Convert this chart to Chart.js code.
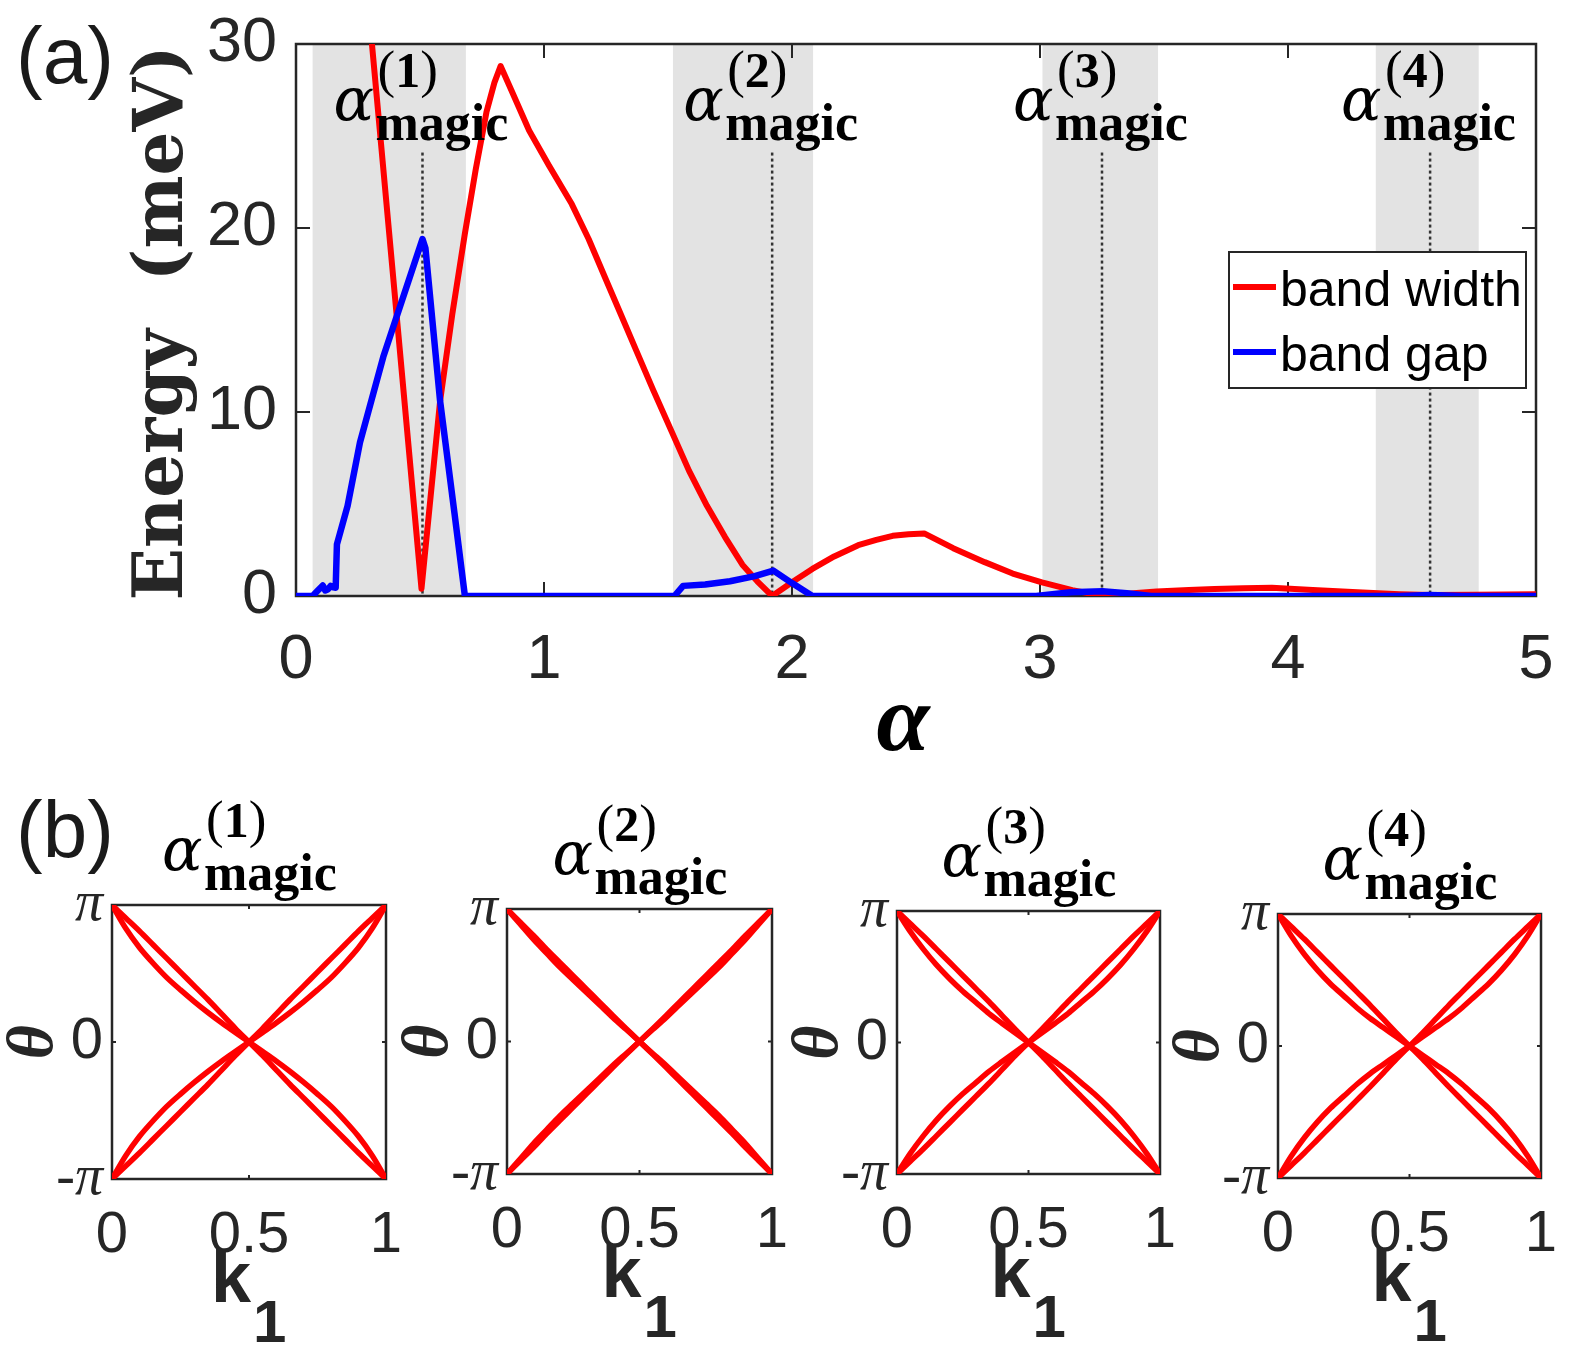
<!DOCTYPE html>
<html>
<head>
<meta charset="utf-8">
<title>Band width and band gap vs alpha</title>
<script src="https://cdn.jsdelivr.net/npm/chart.js@4.4.1/dist/chart.umd.min.js"></script>
<style>
  html, body { margin: 0; padding: 0; background: #fff; overflow: hidden; }
  body { width: 1578px; height: 1351px; position: relative; }
  canvas { position: absolute; }
</style>
</head>
<body>
<canvas id="bandChart" width="1578" height="780" style="left:0;top:0"></canvas>
<canvas id="wl1"></canvas>
<canvas id="wl2"></canvas>
<canvas id="wl3"></canvas>
<canvas id="wl4"></canvas>
<script>
// ===== panel (a) data =====
const alphaWidth = [0.29, 0.409, 0.506, 0.581, 0.63, 0.681, 0.725, 0.768, 0.8, 0.825, 0.868, 0.94, 1.02, 1.112, 1.18, 1.256, 1.31, 1.37, 1.44, 1.514, 1.585, 1.657, 1.73, 1.80, 1.86, 1.92, 2.0, 2.082, 2.17, 2.267, 2.34, 2.406, 2.47, 2.533, 2.65, 2.777, 2.89, 3.008, 3.13, 3.252, 3.35, 3.47, 3.6, 3.703, 3.82, 3.935, 4.1, 4.28, 4.45, 4.574, 4.75, 5.0];
const bandWidth  = [32.4, 14.8, 0.4, 10.6, 15.3, 19.7, 23.2, 26.3, 27.9, 28.8, 27.5, 25.3, 23.4, 21.3, 19.4, 17.0, 15.3, 13.4, 11.2, 8.96, 6.8, 4.9, 3.2, 1.7, 0.8, 0, 0.75, 1.47, 2.15, 2.76, 3.05, 3.27, 3.36, 3.4, 2.6, 1.84, 1.22, 0.74, 0.32, 0, 0.12, 0.25, 0.33, 0.38, 0.42, 0.45, 0.33, 0.2, 0.1, 0.05, 0.07, 0.1];

const alphaGap = [0, 0.067, 0.086, 0.108, 0.118, 0.129, 0.14, 0.151, 0.16, 0.165, 0.208, 0.258, 0.352, 0.51, 0.522, 0.581, 0.639, 0.681, 1.526, 1.561, 1.65, 1.75, 1.85, 1.925, 2.0, 2.082, 2.985, 3.05, 3.124, 3.252, 3.35, 3.448, 4.45, 4.574, 4.7, 5.0];
const bandGap  = [0, 0, 0.27, 0.57, 0.3, 0.37, 0.55, 0.47, 0.45, 2.8, 4.9, 8.35, 13.0, 19.4, 18.9, 10.6, 4.5, 0, 0, 0.55, 0.62, 0.8, 1.08, 1.38, 0.7, 0, 0, 0.1, 0.2, 0.26, 0.15, 0, 0, 0.05, 0, 0];

const magicAlpha = [0.51, 1.92, 3.25, 4.573];
const shadeStart = [0.067, 1.52, 3.01, 4.354];
const shadeEnd   = [0.685, 2.085, 3.476, 4.769];
const alphaTicks  = [0, 1, 2, 3, 4, 5];
const energyTicks = [0, 10, 20, 30];
const seriesNames = ["band width", "band gap"];

// ===== panel (b) data: Wilson loop phases theta / pi =====
const k1 = [0, 0.05, 0.1, 0.15, 0.2, 0.25, 0.3, 0.35, 0.4, 0.45, 0.5, 0.55, 0.6, 0.65, 0.7, 0.75, 0.8, 0.85, 0.9, 0.95, 1];

const wl1Down     = [1, 0.905, 0.81, 0.71, 0.61, 0.51, 0.41, 0.31, 0.205, 0.1, 0, -0.1, -0.205, -0.31, -0.41, -0.51, -0.61, -0.71, -0.81, -0.905, -1];
const wl1DownBent = [1, 0.83, 0.69, 0.575, 0.47, 0.38, 0.295, 0.215, 0.14, 0.07, 0, -0.07, -0.14, -0.215, -0.295, -0.38, -0.47, -0.575, -0.69, -0.83, -1];
const wl1Up       = [-1, -0.905, -0.81, -0.71, -0.61, -0.51, -0.41, -0.31, -0.205, -0.1, 0, 0.1, 0.205, 0.31, 0.41, 0.51, 0.61, 0.71, 0.81, 0.905, 1];
const wl1UpBent   = [-1, -0.83, -0.69, -0.575, -0.47, -0.38, -0.295, -0.215, -0.14, -0.07, 0, 0.07, 0.14, 0.215, 0.295, 0.38, 0.47, 0.575, 0.69, 0.83, 1];

const wl2Down     = [1, 0.9, 0.8, 0.695, 0.595, 0.495, 0.395, 0.295, 0.195, 0.097, 0, -0.097, -0.195, -0.295, -0.395, -0.495, -0.595, -0.695, -0.8, -0.9, -1];
const wl2DownBent = [1, 0.885, 0.77, 0.665, 0.56, 0.465, 0.37, 0.275, 0.18, 0.09, 0, -0.09, -0.18, -0.275, -0.37, -0.465, -0.56, -0.665, -0.77, -0.885, -1];
const wl2Up       = [-1, -0.9, -0.8, -0.695, -0.595, -0.495, -0.395, -0.295, -0.195, -0.097, 0, 0.097, 0.195, 0.295, 0.395, 0.495, 0.595, 0.695, 0.8, 0.9, 1];
const wl2UpBent   = [-1, -0.885, -0.77, -0.665, -0.56, -0.465, -0.37, -0.275, -0.18, -0.09, 0, 0.09, 0.18, 0.275, 0.37, 0.465, 0.56, 0.665, 0.77, 0.885, 1];

const wl3Down     = [1, 0.905, 0.81, 0.71, 0.61, 0.51, 0.41, 0.31, 0.205, 0.1, 0, -0.1, -0.205, -0.31, -0.41, -0.51, -0.61, -0.71, -0.81, -0.905, -1];
const wl3DownBent = [1, 0.845, 0.71, 0.59, 0.485, 0.39, 0.305, 0.22, 0.145, 0.072, 0, -0.072, -0.145, -0.22, -0.305, -0.39, -0.485, -0.59, -0.71, -0.845, -1];
const wl3Up       = [-1, -0.905, -0.81, -0.71, -0.61, -0.51, -0.41, -0.31, -0.205, -0.1, 0, 0.1, 0.205, 0.31, 0.41, 0.51, 0.61, 0.71, 0.81, 0.905, 1];
const wl3UpBent   = [-1, -0.845, -0.71, -0.59, -0.485, -0.39, -0.305, -0.22, -0.145, -0.072, 0, 0.072, 0.145, 0.22, 0.305, 0.39, 0.485, 0.59, 0.71, 0.845, 1];

const wl4Down     = [1, 0.905, 0.81, 0.71, 0.61, 0.51, 0.41, 0.31, 0.205, 0.1, 0, -0.1, -0.205, -0.31, -0.41, -0.51, -0.61, -0.71, -0.81, -0.905, -1];
const wl4DownBent = [1, 0.835, 0.695, 0.575, 0.47, 0.38, 0.29, 0.21, 0.14, 0.07, 0, -0.07, -0.14, -0.21, -0.29, -0.38, -0.47, -0.575, -0.695, -0.835, -1];
const wl4Up       = [-1, -0.905, -0.81, -0.71, -0.61, -0.51, -0.41, -0.31, -0.205, -0.1, 0, 0.1, 0.205, 0.31, 0.41, 0.51, 0.61, 0.71, 0.81, 0.905, 1];
const wl4UpBent   = [-1, -0.835, -0.695, -0.575, -0.47, -0.38, -0.29, -0.21, -0.14, -0.07, 0, 0.07, 0.14, 0.21, 0.29, 0.38, 0.47, 0.575, 0.695, 0.835, 1];

const thetaTicks = [-1, 0, 1];
const thetaLabels = ["-π", "0", "π"];
const kTicks = [0, 0.5, 1];
const kLabels = ["0", "0.5", "1"];

// ===== styles =====
const INK = "#262626";
const SANS = '"Liberation Sans", Arial, sans-serif';
const SERIF = '"Liberation Serif", "Times New Roman", serif';
const dotTop = 24.1;

function toPoints(xs, ys) {
    return xs.map((v, i) => ({ x: v, y: ys[i] }));
}

// keep the plot box where the layout padding puts it
function noLabelPadding(s) {
    s.paddingTop = 0;
    s.paddingBottom = 0;
    s.paddingLeft = 0;
    s.paddingRight = 0;
}

// box with MATLAB style inward ticks
function drawFrame(ctx, a, xs, ys, xt, yt, len) {
    ctx.save();
    ctx.strokeStyle = INK;
    ctx.lineWidth = 2.5;
    ctx.strokeRect(a.left, a.top, a.right - a.left, a.bottom - a.top);
    ctx.lineWidth = 2;
    ctx.beginPath();
    xt.forEach(v => {
        const px = xs.getPixelForValue(v);
        ctx.moveTo(px, a.bottom); ctx.lineTo(px, a.bottom - len);
        ctx.moveTo(px, a.top); ctx.lineTo(px, a.top + len);
    });
    yt.forEach(v => {
        const py = ys.getPixelForValue(v);
        ctx.moveTo(a.left, py); ctx.lineTo(a.left + len, py);
        ctx.moveTo(a.right, py); ctx.lineTo(a.right - len, py);
    });
    ctx.stroke();
    ctx.restore();
}

// alpha^(n)_magic label, x0 = left of alpha, base = alpha baseline
function drawMagic(ctx, x0, base, n) {
    ctx.save();
    ctx.fillStyle = "#000";
    ctx.textAlign = "left";
    ctx.textBaseline = "alphabetic";
    ctx.font = 'italic 60px "DejaVu Serif", serif';
    ctx.fillText("α", x0, base);
    let sx = x0 + 44;
    const sb = base - 33;
    ctx.font = "53px " + SERIF;
    ctx.fillText("(", sx, sb);
    sx += ctx.measureText("(").width;
    ctx.font = "bold 50px " + SERIF;
    ctx.fillText(String(n), sx, sb);
    sx += ctx.measureText(String(n)).width;
    ctx.font = "53px " + SERIF;
    ctx.fillText(")", sx, sb);
    ctx.font = "bold 52px " + SERIF;
    ctx.fillText("magic", x0 + 42, base + 20);
    ctx.restore();
}

// ===============================
// PANEL (a)
// ===============================
const bandDecor = {
    id: "bandDecor",
    beforeDatasetsDraw(chart) {
        const { ctx, chartArea: a, scales: { x, y } } = chart;
        ctx.save();
        ctx.fillStyle = "#e3e3e3";
        shadeStart.forEach((s, i) => {
            const x0 = x.getPixelForValue(s);
            const x1 = x.getPixelForValue(shadeEnd[i]);
            ctx.fillRect(x0, a.top, x1 - x0, a.bottom - a.top);
        });
        ctx.strokeStyle = "#333";
        ctx.lineWidth = 2.5;
        ctx.setLineDash([3, 3]);
        magicAlpha.forEach(m => {
            const px = x.getPixelForValue(m);
            ctx.beginPath();
            ctx.moveTo(px, y.getPixelForValue(dotTop));
            ctx.lineTo(px, a.bottom);
            ctx.stroke();
        });
        ctx.restore();
        drawFrame(ctx, a, x, y, alphaTicks, energyTicks, 14);
    },
    afterDatasetsDraw(chart) {
        const { ctx, scales: { x } } = chart;

        magicAlpha.forEach((m, i) => drawMagic(ctx, x.getPixelForValue(m) - 89, 120, i + 1));

        // legend
        ctx.save();
        ctx.fillStyle = "#fff";
        ctx.fillRect(1229, 252, 297, 136);
        ctx.strokeStyle = INK;
        ctx.lineWidth = 2;
        ctx.strokeRect(1229, 252, 297, 136);
        const cols = ["#ff0000", "#0000ff"];
        [287, 352].forEach((ly, i) => {
            ctx.strokeStyle = cols[i];
            ctx.lineWidth = 6;
            ctx.beginPath();
            ctx.moveTo(1233, ly);
            ctx.lineTo(1276, ly);
            ctx.stroke();
            ctx.fillStyle = "#000";
            ctx.font = "50px " + SANS;
            ctx.textBaseline = "alphabetic";
            ctx.fillText(seriesNames[i], 1280, ly + 19);
        });

        // axis titles
        ctx.fillStyle = INK;
        ctx.translate(182, 323);
        ctx.rotate(-Math.PI / 2);
        ctx.textAlign = "center";
        ctx.font = 'bold 69px "DejaVu Serif", serif';
        ctx.fillText("Energy  (meV)", 0, 0);
        ctx.restore();

        ctx.save();
        ctx.fillStyle = "#000";
        ctx.textAlign = "center";
        ctx.font = "bold italic 96px " + SERIF;
        ctx.fillText("α", 903, 750);
        ctx.font = "80px " + SANS;
        ctx.textAlign = "left";
        ctx.fillStyle = "#1a1a1a";
        ctx.fillText("(a)", 16, 83);
        ctx.restore();
    }
};

new Chart(document.getElementById("bandChart"), {
    type: "line",
    data: {
        datasets: [
            {
                label: seriesNames[1],
                data: toPoints(alphaGap, bandGap),
                borderColor: "#0000ff",
                borderWidth: 6.5,
                order: 0
            },
            {
                label: seriesNames[0],
                data: toPoints(alphaWidth, bandWidth),
                borderColor: "#ff0000",
                borderWidth: 6,
                order: 1
            }
        ]
    },
    options: {
        responsive: false,
        animation: false,
        events: [],
        layout: { padding: { top: 44, right: 42, left: 0, bottom: 0 } },
        elements: {
            point: { radius: 0 },
            line: { tension: 0, borderJoinStyle: "round", borderCapStyle: "round", fill: false }
        },
        plugins: { legend: { display: false }, tooltip: { enabled: false } },
        scales: {
            x: {
                type: "linear",
                min: 0, max: 5,
                grid: { display: false, drawTicks: false },
                border: { display: false },
                afterFit: s => { s.height = 780 - 596; noLabelPadding(s); },
                afterBuildTicks: s => { s.ticks = alphaTicks.map(v => ({ value: v })); },
                ticks: { color: INK, padding: 27, font: { family: SANS, size: 63 }, maxRotation: 0, autoSkip: false }
            },
            y: {
                type: "linear",
                min: 0, max: 30,
                grid: { display: false, drawTicks: false },
                border: { display: false },
                afterFit: s => { s.width = 296; noLabelPadding(s); },
                afterBuildTicks: s => { s.ticks = energyTicks.map(v => ({ value: v })); },
                ticks: { color: INK, padding: 19, font: { family: SANS, size: 63 } }
            }
        }
    },
    plugins: [bandDecor]
});

// ===============================
// PANEL (b)
// ===============================
const wilsonBoxes = [
    { l: 112, t: 905, r: 386, b: 1179 },
    { l: 507, t: 909, r: 772, b: 1174 },
    { l: 897, t: 911, r: 1160, b: 1174 },
    { l: 1278, t: 914, r: 1541, b: 1178 }
];
const wilsonSets = [
    [wl1Down, wl1DownBent, wl1Up, wl1UpBent],
    [wl2Down, wl2DownBent, wl2Up, wl2UpBent],
    [wl3Down, wl3DownBent, wl3Up, wl3UpBent],
    [wl4Down, wl4DownBent, wl4Up, wl4UpBent]
];

function wilsonChart(idx) {
    const box = wilsonBoxes[idx];
    const padTop = 125, padRight = 25, yW = 112, xH = 175;
    const cv = document.getElementById("wl" + (idx + 1));
    const left = box.l - yW, top = box.t - padTop;
    cv.width = (box.r - box.l) + yW + padRight;
    cv.height = (box.b - box.t) + padTop + xH;
    cv.style.left = left + "px";
    cv.style.top = top + "px";

    const decor = {
        id: "wilsonDecor" + idx,
        beforeDatasetsDraw(chart) {
            const { ctx, chartArea: a, scales: { x, y } } = chart;
            drawFrame(ctx, a, x, y, kTicks, thetaTicks, 4);
        },
        afterDatasetsDraw(chart) {
            const { ctx, chartArea: a } = chart;
            const cx = (a.left + a.right) / 2;
            const cy = (a.top + a.bottom) / 2;
            drawMagic(ctx, cx - 87, a.top - 35, idx + 1);

            ctx.save();
            ctx.fillStyle = INK;
            ctx.textAlign = "left";
            ctx.font = "bold 72px " + SANS;
            ctx.fillText("k", cx - 38, a.bottom + 123);
            ctx.font = "bold 60px " + SANS;
            ctx.fillText("1", cx + 4, a.bottom + 163);

            ctx.translate(a.left - 77, cy);
            ctx.rotate(-Math.PI / 2);
            ctx.textAlign = "center";
            ctx.textBaseline = "middle";
            ctx.font = "bold italic 66px " + SERIF;
            ctx.fillText("θ", 0, 0);
            ctx.restore();

            if (idx === 0) {
                ctx.save();
                ctx.fillStyle = "#1a1a1a";
                ctx.font = "80px " + SANS;
                ctx.fillText("(b)", 16 - left, 857 - top);
                ctx.restore();
            }
        }
    };

    const series = wilsonSets[idx];
    new Chart(cv, {
        type: "line",
        data: {
            datasets: series.map(vals => ({
                data: toPoints(k1, vals),
                borderColor: "#ff0000",
                borderWidth: 5.5
            }))
        },
        options: {
            responsive: false,
            animation: false,
            events: [],
            layout: { padding: { top: padTop, right: padRight, left: 0, bottom: 0 } },
            elements: {
                point: { radius: 0 },
                line: { tension: 0.3, borderCapStyle: "round", borderJoinStyle: "round", fill: false }
            },
            plugins: { legend: { display: false }, tooltip: { enabled: false } },
            scales: {
                x: {
                    type: "linear",
                    min: 0, max: 1,
                    grid: { display: false, drawTicks: false },
                    border: { display: false },
                    afterFit: s => { s.height = xH; noLabelPadding(s); },
                    afterBuildTicks: s => { s.ticks = kTicks.map(v => ({ value: v })); },
                    ticks: {
                        color: INK, padding: 22, maxRotation: 0, autoSkip: false,
                        font: { family: SANS, size: 58 },
                        callback: v => kLabels[kTicks.indexOf(v)]
                    }
                },
                y: {
                    type: "linear",
                    min: -1, max: 1,
                    grid: { display: false, drawTicks: false },
                    border: { display: false },
                    afterFit: s => { s.width = yW; noLabelPadding(s); },
                    afterBuildTicks: s => { s.ticks = thetaTicks.map(v => ({ value: v })); },
                    ticks: {
                        color: INK,
                        padding: 9,
                        autoSkip: false,
                        callback: v => thetaLabels[thetaTicks.indexOf(v)],
                        font: c => (c.tick && c.tick.value === 0)
                            ? { family: SANS, size: 58 }
                            : { family: SERIF, size: 56, style: "italic" }
                    }
                }
            }
        },
        plugins: [decor]
    });
}

wilsonBoxes.forEach((b, i) => wilsonChart(i));
</script>
</body>
</html>
